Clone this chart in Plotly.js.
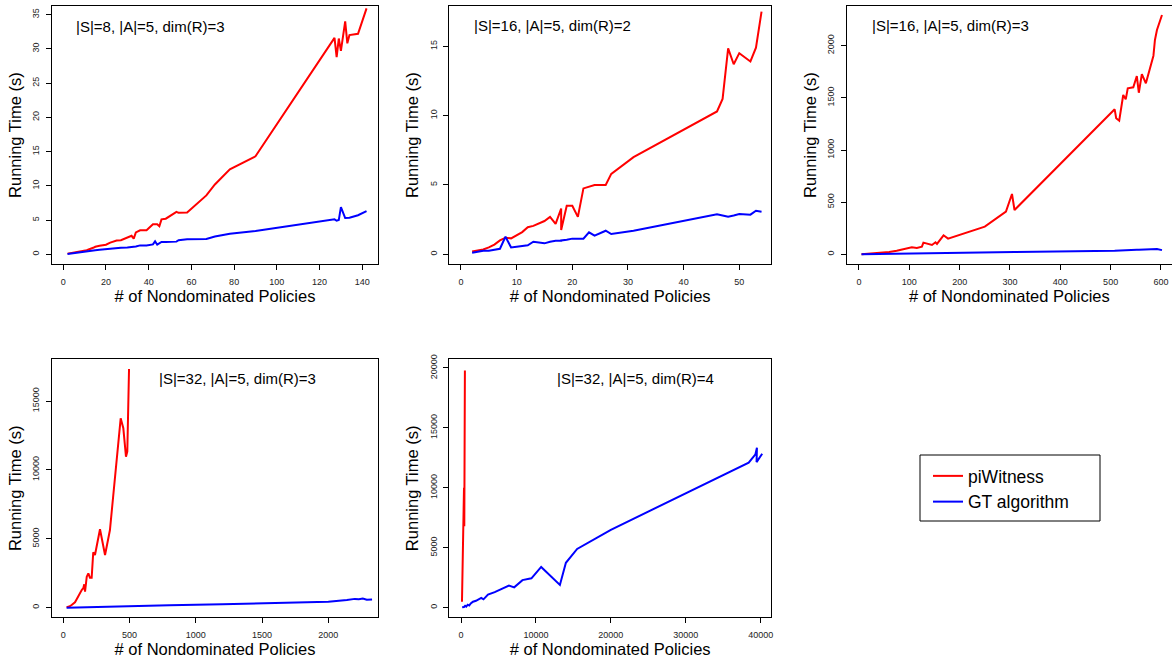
<!DOCTYPE html>
<html>
<head>
<meta charset="utf-8">
<script src="https://cdn.plot.ly/plotly-3.0.1.min.js"></script>
<style>html,body{margin:0;padding:0;background:#fff;}#chart{width:1172px;height:661px;}</style>
</head>
<body>
<div id="chart"></div>
<script>
// ---------- data ----------
const seriesNames = ["piWitness", "GT algorithm"];
const panelLabels = ["|S|=8, |A|=5, dim(R)=3", "|S|=16, |A|=5, dim(R)=2", "|S|=16, |A|=5, dim(R)=3", "|S|=32, |A|=5, dim(R)=3", "|S|=32, |A|=5, dim(R)=4"];
const xTitle = "# of Nondominated Policies";
const yTitle = "Running Time (s)";

// panel 1
const x1 = [2, 5, 8, 11, 14, 15, 17, 20, 22, 25, 27, 30, 32, 33, 34, 36, 39, 42, 43, 44, 45, 46, 48, 53, 54, 58, 67, 71, 78, 90, 127, 128, 129, 130, 132, 133, 134, 138, 142];
const red1 = [0.1, 0.25, 0.4, 0.6, 0.95, 1.1, 1.25, 1.4, 1.7, 2.0, 2.05, 2.4, 2.7, 2.3, 3.2, 3.5, 3.5, 4.4, 4.35, 4.4, 4.1, 5.1, 5.2, 6.2, 6.05, 6.1, 8.6, 10.2, 12.4, 14.3, 31.6, 28.8, 31.5, 29.7, 34.0, 30.8, 32.0, 32.2, 35.9];
const blue1 = [0.05, 0.2, 0.3, 0.45, 0.55, 0.6, 0.65, 0.75, 0.85, 0.9, 0.95, 1.0, 1.05, 1.1, 1.15, 1.3, 1.3, 1.45, 1.9, 1.4, 1.55, 1.8, 1.8, 1.85, 2.05, 2.2, 2.25, 2.6, 3.0, 3.4, 5.1, 4.9, 5.0, 6.9, 5.3, 5.3, 5.35, 5.7, 6.3];

// panel 2
const x2 = [2, 4, 5, 6, 7, 8, 9, 10, 11, 12, 13, 15, 16, 17, 18, 18, 19, 20, 21, 22, 23, 24, 26, 27, 31, 46, 47, 48, 49, 50, 52, 53, 54];
const red2 = [0.2, 0.35, 0.5, 0.7, 1.0, 1.2, 1.15, 1.4, 1.6, 1.95, 2.05, 2.4, 2.7, 2.2, 3.3, 1.75, 3.5, 3.5, 2.7, 4.75, 4.9, 5.0, 5.0, 5.8, 7.0, 10.3, 11.2, 14.85, 13.7, 14.5, 13.9, 14.9, 17.5];
const blue2 = [0.12, 0.26, 0.26, 0.33, 0.4, 1.27, 0.5, 0.55, 0.6, 0.65, 0.91, 0.79, 0.91, 0.98, 0.98, 1.0, 1.05, 1.13, 1.13, 1.13, 1.58, 1.34, 1.7, 1.46, 1.7, 2.88, 2.8, 2.71, 2.8, 2.9, 2.86, 3.14, 3.07];

// panel 3
const x3 = [5, 40, 60, 75, 90, 100, 105, 115, 125, 128, 145, 152, 155, 168, 177, 250, 292, 304, 309, 508, 511, 517, 525, 530, 534, 545, 552, 556, 562, 570, 585, 588, 592, 602];
const red3 = [0, 10, 22, 35, 48, 57, 67, 61, 73, 112, 89, 115, 99, 182, 150, 265, 409, 578, 425, 1390, 1304, 1281, 1527, 1486, 1591, 1601, 1709, 1549, 1728, 1639, 1904, 2055, 2150, 2294];
const blue3 = [0, 3, 5, 6, 7, 8, 9, 9, 10, 10, 11, 11, 12, 13, 13, 17, 20, 21, 21, 35, 36, 36, 38, 39, 40, 42, 44, 44, 46, 46, 50, 52, 50, 40];

// panel 4
const x4red = [25, 45, 63, 75, 88, 100, 115, 126, 140, 151, 158, 164, 177, 189, 201, 214, 220, 226, 239, 277, 315, 352, 433, 453, 473, 483, 496];
const red4 = [29, 80, 196, 300, 392, 600, 900, 1117, 1300, 1408, 1700, 1161, 2250, 2496, 2177, 2177, 3400, 4020, 3824, 5689, 3824, 5638, 13744, 13019, 10958, 11321, 17322];
const x4blue = [25, 100, 200, 300, 500, 800, 1200, 1600, 2000, 2140, 2200, 2230, 2260, 2290, 2330];
const blue4 = [0, 20, 40, 60, 100, 170, 250, 340, 440, 560, 640, 620, 660, 580, 600];

// panel 5
const x5red = [130, 200, 230, 260, 330, 400, 440, 470, 520];
const red5 = [500, 3500, 5200, 3700, 6800, 10000, 6800, 10000, 19800];
const x5blue = [150, 400, 550, 700, 900, 1100, 1300, 1600, 2000, 2700, 3000, 3600, 4500, 6400, 7100, 8200, 9400, 10700, 13200, 14000, 15500, 20000, 38400, 39300, 39500, 39450, 40200];
const blue5 = [30, 60, 160, 90, 250, 180, 350, 500, 580, 820, 700, 1100, 1300, 1850, 1700, 2300, 2450, 3400, 1900, 3750, 4900, 6500, 12100, 12800, 13350, 12150, 12850];

// ---------- layout helpers ----------
const W = 1172, H = 661;
const px = v => v / W;
const py = v => 1 - v / H;
const FONT = "Arial, 'Liberation Sans', sans-serif";
const RED = "#ff0000", BLUE = "#0000ff";

const panels = [
  {xr: [x1, x1], yr: [red1, blue1], dom: [[51.7, 378.3], [6, 264.3]], xrange: [-5.4, 147.5], yrange: [-1.46, 36.25], dx: 20, dy: 5, label: [74, 26], right: true},
  {xr: [x2, x2], yr: [red2, blue2], dom: [[449.3, 771], [6, 264.3]], xrange: [-2.1, 55.7], yrange: [-0.72, 17.9], dx: 10, dy: 5, label: [471.7, 25.5], right: true},
  {xr: [x3, x3], yr: [red3, blue3], dom: [[846.7, 1172], [6, 264.3]], xrange: [-24.4, 621.9], yrange: [-95.9, 2380.6], dx: 100, dy: 500, label: [870, 25.5], right: false},
  {xr: [x4red, x4blue], yr: [red4, blue4], dom: [[51.7, 378.3], [359.3, 617.3]], xrange: [-87.5, 2377], yrange: [-697, 18026], dx: 500, dy: 5000, label: [156.7, 378.3], right: true},
  {xr: [x5red, x5blue], yr: [red5, blue5], dom: [[449.3, 771], [359.3, 617.3]], xrange: [-1562, 41377], yrange: [-800, 20725], dx: 10000, dy: 5000, label: [555, 378.7], right: true}
];

const data = [];
const layout = {
  width: W, height: H,
  margin: {l: 0, r: 0, t: 0, b: 0, pad: 0},
  paper_bgcolor: "#fff", plot_bgcolor: "#fff",
  font: {family: FONT, color: "#000"},
  showlegend: true,
  legend: {
    x: px(928), y: py(458), xanchor: "left", yanchor: "top",
    bgcolor: "rgba(0,0,0,0)", borderwidth: 0,
    font: {family: FONT, size: 17.5, color: "#000"},
    tracegroupgap: 0
  },
  annotations: [],
  shapes: [
    {type: "rect", xref: "paper", yref: "paper", x0: px(920), x1: px(1100), y0: py(521), y1: py(455), line: {color: "#000", width: 1}, fillcolor: "rgba(0,0,0,0)"}
  ]
};

panels.forEach((p, i) => {
  const n = i === 0 ? "" : String(i + 1);
  const xa = "x" + n, ya = "y" + n;
  [0, 1].forEach(s => {
    data.push({
      type: "scatter", mode: "lines",
      x: p.xr[s], y: p.yr[s],
      xaxis: xa, yaxis: ya,
      name: seriesNames[s],
      showlegend: i === 0,
      line: {color: s === 0 ? RED : BLUE, width: 2}
    });
  });
  const tickfont = {family: FONT, size: 9, color: "#222"};
  layout["xaxis" + n] = {
    domain: [px(p.dom[0][0]), px(p.dom[0][1])],
    anchor: ya, range: p.xrange, autorange: false,
    tick0: 0, dtick: p.dx, tickformat: "d", ticks: "outside", ticklen: 5, tickwidth: 1, tickcolor: "#000",
    ticklabelstandoff: 4,
    showgrid: false, zeroline: false,
    showline: true, linecolor: "#000", linewidth: 1, mirror: true,
    tickfont: tickfont,
    title: {text: xTitle, font: {family: FONT, size: 16.5, color: "#000"}, standoff: 3}
  };
  layout["yaxis" + n] = {
    domain: [py(p.dom[1][1]), py(p.dom[1][0])],
    anchor: xa, range: p.yrange, autorange: false,
    tick0: 0, dtick: p.dy, tickformat: "d", ticks: "outside", ticklen: 5, tickwidth: 1, tickcolor: "#000",
    tickangle: -90, ticklabelstandoff: 3,
    showgrid: false, zeroline: false,
    showline: true, linecolor: "#000", linewidth: 1, mirror: p.right,
    tickfont: tickfont,
    title: {text: yTitle, font: {family: FONT, size: 16.5, color: "#000"}, standoff: 5}
  };
  layout.annotations.push({
    xref: "paper", yref: "paper", x: px(p.label[0]), y: py(p.label[1]),
    xanchor: "left", yanchor: "middle", showarrow: false,
    text: panelLabels[i], font: {family: FONT, size: 15, color: "#000"}
  });
});

// top border for panel 3 (right border is outside the picture)
layout.xaxis3.mirror = true;

Plotly.newPlot("chart", data, layout, {displayModeBar: false, staticPlot: true});
</script>
</body>
</html>
